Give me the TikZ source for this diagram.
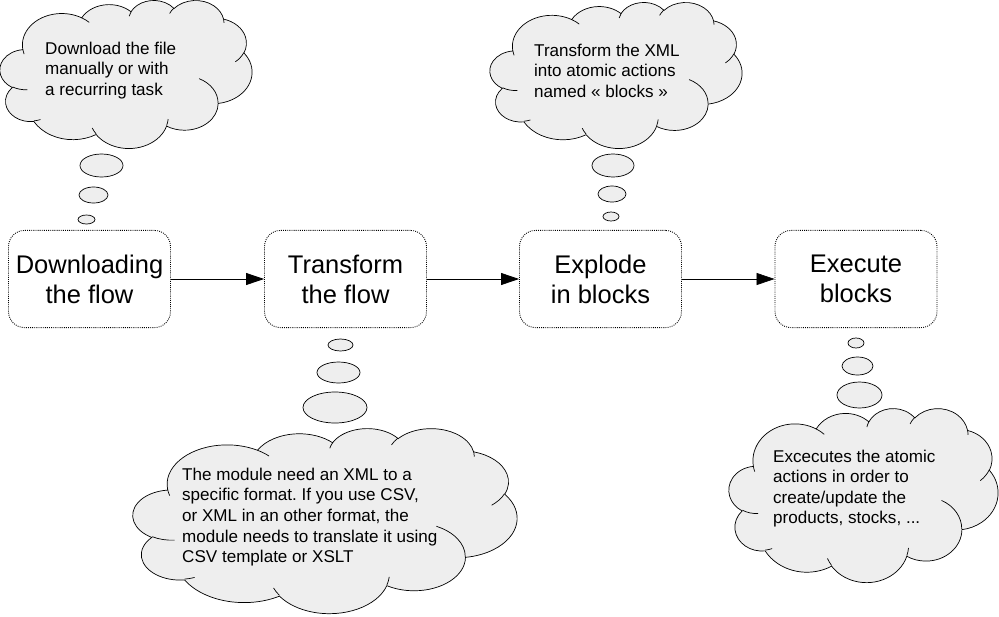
\documentclass[tikz,border=0pt]{standalone}
\usepackage{fontspec}
\setmainfont{Liberation Sans}
\frenchspacing
\usetikzlibrary{arrows.meta}
\usetikzlibrary{positioning}

\definecolor{cloudgray}{RGB}{238,238,238}

\tikzset{
  stage/.style={draw,line width=0.9pt,dash pattern=on 0.9pt off 1.2pt,
    rounded corners=0.56cm,
    minimum width=5.67cm,minimum height=3.4cm,align=center,
    font=\fontsize{25.4}{30}\selectfont},
  flow/.style={line width=0.7pt,-{Triangle[length=0.63cm,width=0.42cm]}},
  cloudline/.style={line width=0.7pt},
  bubble/.style={draw,fill=cloudgray,line width=0.7pt},
  note/.style={anchor=west,align=left,inner sep=0pt,
    font=\fontsize{17}{20.5}\selectfont}
}

% one puff of a cloud, angles as seen on the ellipse
\newcommand\puff[4]{arc[x radius=#1,y radius=#2,
  start angle={atan2(#1*sin(#3),#2*cos(#3))},
  delta angle={mod(atan2(#1*sin(#3+#4),#2*cos(#3+#4))-atan2(#1*sin(#3),#2*cos(#3))+720,360)}]}

% cloud in the frame: left, top, width, height (pixels)
\newcommand\thoughtcloud[4]{%
  \pgfmathsetmacro\cloudx{#3*0.035/43.2}%
  \pgfmathsetmacro\cloudy{#4*0.035/43.2}%
  \begin{scope}[shift={(#1,#2)},x=\cloudx cm,y=-\cloudy cm]
  \draw[cloudline,fill=cloudgray] (3.900,14.370)
    \puff{6.753}{9.190}{-190.4875}{123.7805}
    \puff{5.333}{7.267}{-144.1024}{89.9452}
    \puff{4.365}{5.945}{-145.8079}{99.7230}
    \puff{4.857}{6.595}{-130.9861}{117.2417}
    \puff{5.333}{7.273}{-78.7089}{109.0269}
    \puff{6.775}{9.220}{-46.2673}{130.2690}
    \puff{5.785}{7.867}{0.6250}{114.0333}
    \puff{6.752}{9.215}{22.4516}{115.1726}
    \puff{7.720}{10.543}{66.2426}{75.7110}
    \puff{4.360}{5.918}{-274.9421}{146.7356}
    \puff{4.345}{5.945}{-246.8285}{152.5189} -- cycle;
  \draw[cloudline]
    (4.693,26.177) \puff{4.345}{5.945}{86.7420}{26.4295}
    (6.928,34.899) \puff{4.360}{5.918}{73.6105}{11.4475}
    (16.478,39.090) \puff{6.752}{9.215}{137.6242}{14.0811}
    (28.827,34.751) \puff{6.752}{9.215}{6.4533}{15.9984}
    (34.129,22.954) \puff{5.785}{7.867}{-70.2924}{70.9174}
    (41.798,15.354) \puff{5.333}{7.273}{30.3180}{27.7515}
    (38.324,5.426) \puff{4.857}{6.595}{-13.7443}{14.8589}
    (29.078,3.952) \puff{4.857}{6.595}{-149.1815}{18.1954}
    (22.141,4.720) \puff{4.365}{5.945}{-163.4943}{17.6864}
    (14.000,5.192) \puff{6.753}{9.190}{-66.7070}{12.3194}
    (4.127,15.789) \puff{6.753}{9.190}{157.6544}{11.8582};
  \end{scope}}

\begin{document}
\begin{tikzpicture}[x=0.035cm,y=-0.035cm]
\useasboundingbox (0,0) rectangle (999,616);

% steps
\node[stage] (download) at (89.5,279) {Downloading\\the flow};
\node[stage] (transform) at (345.5,279) {Transform\\the flow};
\node[stage] (explode) at (600.5,279) {Explode\\in blocks};
\node[stage] (execute) at (856,279) {Execute\\blocks};

\draw[flow] (download) -- (transform);
\draw[flow] (transform) -- (explode);
\draw[flow] (explode) -- (execute);

% thoughts
\thoughtcloud{0}{0}{252}{148}
\draw[bubble] (101.5,165.5) ellipse [x radius=21.5,y radius=11.5];
\draw[bubble] (93.5,195) ellipse [x radius=14.5,y radius=8];
\draw[bubble] (86.5,219.5) ellipse [x radius=8.5,y radius=4.5];
\node[note] (downloadnote) at (45,70.5) {Download the file\\manually or with\\a recurring task};

\thoughtcloud{490}{2}{252}{146}
\draw[bubble] (613,165.5) ellipse [x radius=21,y radius=11.5];
\draw[bubble] (612,194) ellipse [x radius=14,y radius=8];
\draw[bubble] (611,216.5) ellipse [x radius=8,y radius=4.5];
\node[note] (explodenote) at (534,70.5) {Transform the XML\\into atomic actions\\named « blocks »};

\draw[bubble] (340.5,345) ellipse [x radius=12.5,y radius=6];
\draw[bubble] (338.5,372.5) ellipse [x radius=21.5,y radius=10.5];
\draw[bubble] (335,407.5) ellipse [x radius=32,y radius=15.5];
\thoughtcloud{133}{428}{384}{185}
\node[note] (transformnote) at (182,517) {The module need an XML to a\\specific format. If you use CSV,\\or XML in an other format, the\\module needs to translate it using\\CSV template or XSLT};

\draw[bubble] (856,343) ellipse [x radius=8,y radius=5];
\draw[bubble] (857.5,366) ellipse [x radius=15.5,y radius=9];
\draw[bubble] (859.5,395) ellipse [x radius=22.5,y radius=13];
\thoughtcloud{729}{408}{269}{174}
\node[note] (executenote) at (773,488.5) {Excecutes the atomic\\actions in order to\\create/update the\\products, stocks, ...};

\end{tikzpicture}
\end{document}
